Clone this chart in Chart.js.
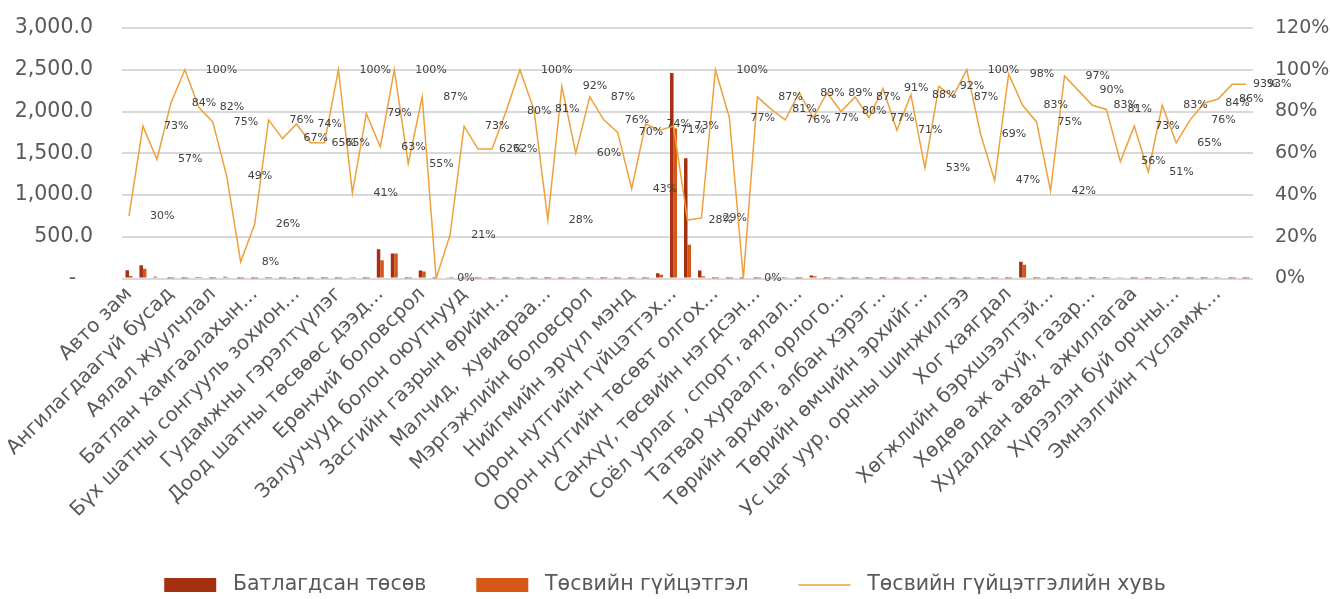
<!DOCTYPE html>
<html>
<head>
<meta charset="utf-8">
<script src="https://cdn.jsdelivr.net/npm/chart.js@4.4.0/dist/chart.umd.min.js"></script>
<style>
html,body{margin:0;padding:0;background:#ffffff;}
#wrap{width:1330px;height:599px;position:relative;}
</style>
</head>
<body>
<div id="wrap"><canvas id="c" width="1330" height="599"></canvas></div>
<script>
// ---- data ----
// 81 budget categories; only every third name is printed on the axis
const categories = [
  'Авто зам','','',
  'Ангилагдаагүй бусад','','',
  'Аялал жуулчлал','','',
  'Батлан хамгаалахын...','','',
  'Бүх шатны сонгууль зохион...','','',
  'Гудамжны гэрэлтүүлэг','','',
  'Доод шатны төсвөөс дээд...','','',
  'Ерөнхий боловсрол','','',
  'Залуучууд болон оюутнууд','','',
  'Засгийн газрын өрийн...','','',
  'Малчид,  хувиараа...','','',
  'Мэргэжлийн боловсрол','','',
  'Нийгмийн эрүүл мэнд','','',
  'Орон нутгийн гүйцэтгэх...','','',
  'Орон нутгийн төсөвт олгох...','','',
  'Санхүү, төсвийн нэгдсэн...','','',
  'Соёл урлаг , спорт, аялал...','','',
  'Татвар хураалт, орлого...','','',
  'Төрийн архив, албан хэрэг...','','',
  'Төрийн өмчийн эрхийг...','','',
  'Ус цаг уур, орчны шинжилгээ','','',
  'Хог хаягдал','','',
  'Хөгжлийн бэрхшээлтэй...','','',
  'Хөдөө аж ахуй, газар...','','',
  'Худалдан авах ажиллагаа','','',
  'Хүрээлэн буй орчны...','','',
  'Эмнэлгийн тусламж...','',''
];

// Батлагдсан төсөв (approved budget)
const approvedBudget = [
  100,160,22,1,1,6,1,20,1,1,
  4,1,1,1,1,1,15,1,350,300,
  1,95,1,15,1,1,1,1,1,1,
  1,1,1,4,1,1,1,1,62,2460,
  1440,96,1,1,1,1,1,18,1,36,
  1,1,1,1,1,1,1,1,1,1,
  1,1,1,1,200,1,1,1,1,1,
  4,15,1,1,4,1,1,1,18,1,
  1
];

// Төсвийн гүйцэтгэл (executed budget)
const executedBudget = [
  30,117,12,0.8,1,5,0.8,10,0.1,0.3,
  3,0.7,0.7,0.6,0.6,1,6,0.8,220,300,
  0.5,83,0,3,0.7,0.6,0.6,0.8,1,0.8,
  0.3,0.9,0.6,3.5,0.8,0.7,0.4,0.7,44,1796,
  403,28,1,0.8,0,0.9,0.8,14,0.9,28,
  0.9,0.8,0.9,0.8,0.9,0.7,0.9,0.5,0.9,0.9,
  1,0.7,0.5,1,166,0.8,0.4,1,0.9,0.8,
  3.2,8,0.7,0.5,3.3,0.7,0.8,0.8,15,0.9,
  0.9
];

// Төсвийн гүйцэтгэлийн хувь (execution, %)
const executionPct = [
  30,73,57,84,100,82,75,49,8,26,
  76,67,74,65,65,100,41,79,63,100,
  55,87,0,21,73,62,62,80,100,81,
  28,92,60,87,76,70,43,74,71,73,
  28,29,100,77,0,87,81,76,89,77,
  89,80,87,77,91,71,88,53,92,87,
  100,69,47,98,83,75,42,97,90,83,
  81,56,73,51,83,65,76,84,86,93,
  93
];

const leftAxis = { min: 0, max: 3000, step: 500 };
const rightAxis = { min: 0, max: 120, step: 20 };

const seriesNames = ['Батлагдсан төсөв', 'Төсвийн гүйцэтгэл', 'Төсвийн гүйцэтгэлийн хувь'];

// ---- styling ----
const FONT = '"DejaVu Sans", sans-serif';
const TXT = '#595959';
const GRID = '#d9d9d9';
const C_APPROVED = '#a5300f';
const C_EXEC = '#d55816';
const C_LINE = '#eea03a';
const LEGEND_CENTER_Y = 585;
const LEGEND_FONT = 20.5;

// percentage labels placed to the right of each point of the line
const pctLabelPlugin = {
  id: 'pctLabels',
  afterDatasetsDraw(chart) {
    const idx = chart.data.datasets.findIndex(d => d.type === 'line');
    const meta = chart.getDatasetMeta(idx);
    const ctx = chart.ctx;
    ctx.save();
    ctx.font = '11px ' + FONT;
    ctx.fillStyle = '#404040';
    ctx.textAlign = 'left';
    ctx.textBaseline = 'middle';
    meta.data.forEach((pt, i) => {
      ctx.fillText(executionPct[i] + '%', pt.x + 21, pt.y);
    });
    ctx.restore();
  }
};

// moves the bottom legend row down to the reference position
const legendShiftPlugin = {
  id: 'legendShift',
  afterLayout(chart) {
    const lg = chart.legend;
    if (!lg) return;
    const p = lg.options.labels.padding;
    const want = LEGEND_CENTER_Y - p - LEGEND_FONT / 2;
    const d = want - lg.top;
    lg.top += d; lg.bottom += d;
  }
};

new Chart(document.getElementById('c'), {
  type: 'bar',
  data: {
    labels: categories,
    datasets: [
      {
        label: seriesNames[0],
        data: approvedBudget,
        backgroundColor: C_APPROVED,
        borderWidth: 0,
        yAxisID: 'y',
        order: 1,
        pointStyle: 'rect',
        categoryPercentage: 0.5,
        barPercentage: 1.0
      },
      {
        label: seriesNames[1],
        data: executedBudget,
        backgroundColor: C_EXEC,
        borderWidth: 0,
        yAxisID: 'y',
        order: 1,
        pointStyle: 'rect',
        categoryPercentage: 0.5,
        barPercentage: 1.0
      },
      {
        type: 'line',
        label: seriesNames[2],
        data: executionPct,
        borderColor: C_LINE,
        backgroundColor: C_LINE,
        borderWidth: 1.5,
        pointRadius: 0,
        pointHoverRadius: 0,
        pointStyle: 'line',
        tension: 0,
        fill: false,
        yAxisID: 'y1',
        order: 0
      }
    ]
  },
  options: {
    responsive: false,
    animation: false,
    devicePixelRatio: 1,
    layout: { padding: { top: 28, left: 0, right: 0, bottom: 0 } },
    plugins: {
      tooltip: { enabled: false },
      legend: {
        position: 'bottom',
        labels: {
          usePointStyle: true,
          pointStyleWidth: 52,
          boxHeight: 14,
          padding: 50,
          color: TXT,
          font: { family: FONT, size: LEGEND_FONT },
          sort: (a, b) => a.datasetIndex - b.datasetIndex,
          generateLabels(ch) {
            const items = Chart.defaults.plugins.legend.labels.generateLabels(ch);
            items.forEach(it => { it.text = ' ' + it.text; });
            return items;
          }
        }
      }
    },
    scales: {
      x: {
        offset: true,
        grid: { display: false, drawTicks: false },
        border: { display: false },
        ticks: {
          autoSkip: false,
          maxRotation: 45,
          minRotation: 45,
          padding: 4,
          color: TXT,
          font: { family: FONT, size: 20 }
        },
        afterFit(scale) { scale.height = 240; }
      },
      y: {
        position: 'left',
        min: leftAxis.min,
        max: leftAxis.max,
        grid: { display: true, drawOnChartArea: true, color: GRID, lineWidth: 2, drawTicks: true, tickLength: 26, tickColor: 'rgba(0,0,0,0)' },
        border: { display: false },
        ticks: {
          stepSize: leftAxis.step,
          padding: 3,
          color: TXT,
          font: { family: FONT, size: 20.5 },
          callback: (v) => v === 0 ? '-\u2002 ' : Number(v).toLocaleString('en-US', { minimumFractionDigits: 1, maximumFractionDigits: 1 })
        },
        afterFit(scale) { scale.width = 122; }
      },
      y1: {
        position: 'right',
        min: rightAxis.min,
        max: rightAxis.max,
        grid: { display: false, drawTicks: true, tickLength: 19 },
        border: { display: false },
        ticks: {
          stepSize: rightAxis.step,
          padding: 3,
          color: TXT,
          font: { family: FONT, size: 19 },
          callback: (v) => v + '%'
        },
        afterFit(scale) { scale.width = 77; }
      }
    }
  },
  plugins: [pctLabelPlugin, legendShiftPlugin]
});
</script>
</body>
</html>
